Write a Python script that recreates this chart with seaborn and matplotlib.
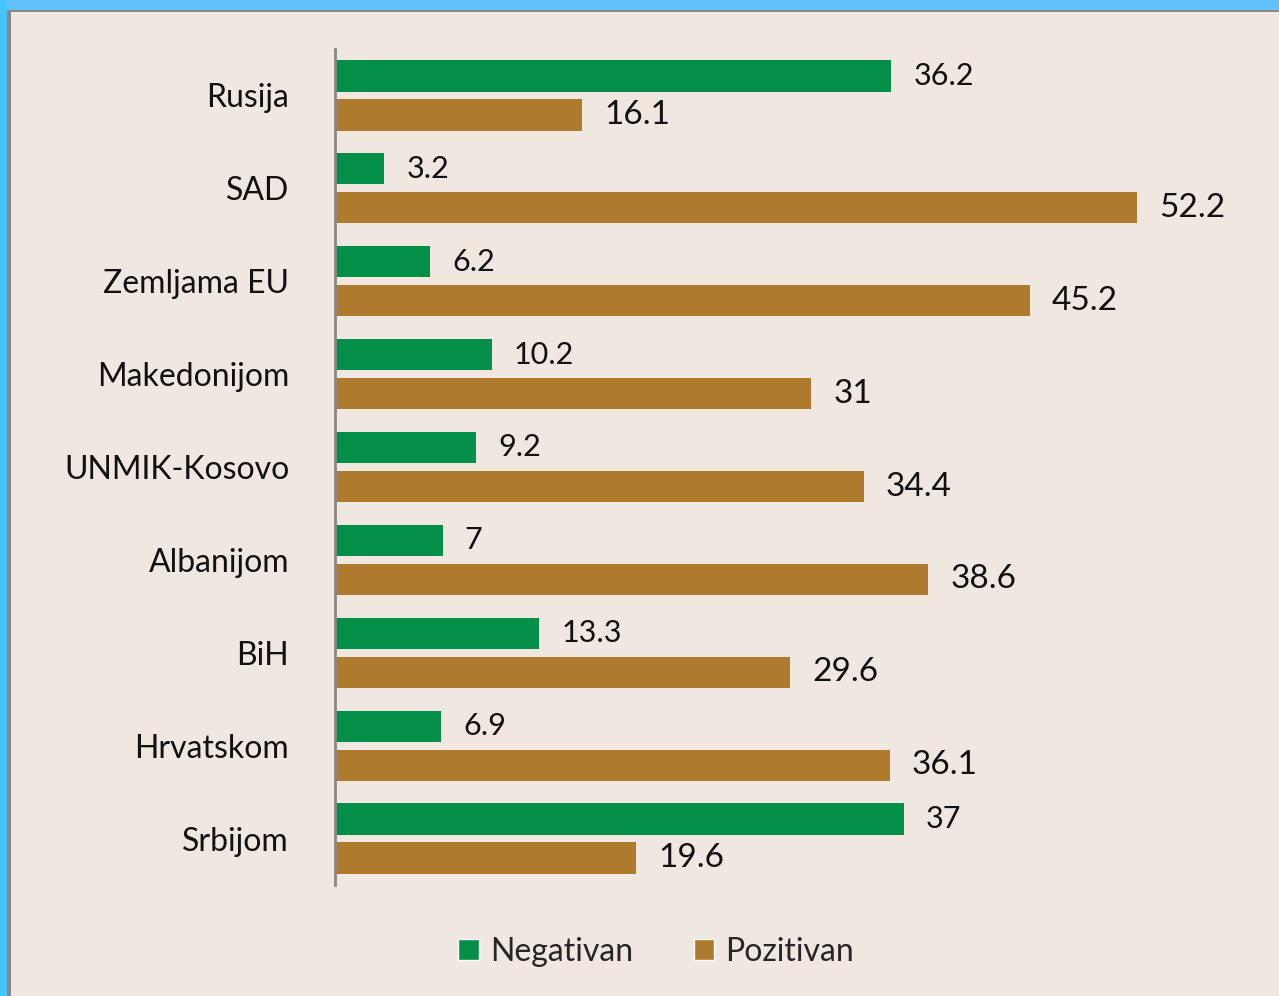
import matplotlib
matplotlib.use("Agg")
import matplotlib.pyplot as plt
import matplotlib.patches as mpatches
import seaborn as sns
import pandas as pd

categories = ["Rusija", "SAD", "Zemljama EU", "Makedonijom", "UNMIK-Kosovo",
              "Albanijom", "BiH", "Hrvatskom", "Srbijom"]
negativan = [36.2, 3.2, 6.2, 10.2, 9.2, 7, 13.3, 6.9, 37]
pozitivan = [16.1, 52.2, 45.2, 31, 34.4, 38.6, 29.6, 36.1, 19.6]
neg_labels = ["36.2", "3.2", "6.2", "10.2", "9.2", "7", "13.3", "6.9", "37"]
poz_labels = ["16.1", "52.2", "45.2", "31", "34.4", "38.6", "29.6", "36.1", "19.6"]
series = ["Negativan", "Pozitivan"]

GREEN = "#038F48"
BROWN = "#AD7A2E"
BG = "#F0E8E0"

sns.set_style("white")
plt.rcParams['font.family'] = ['Lato', 'DejaVu Sans']

df = pd.DataFrame({
    "cat": categories * 2,
    "val": negativan + pozitivan,
    "series": [series[0]] * len(categories) + [series[1]] * len(categories),
})

fig = plt.figure(figsize=(12.79, 9.96), dpi=100)
fig.patch.set_facecolor(BG)
# blue frame at top and left with a gray line
fig.patches.append(mpatches.Rectangle((0, 1 - 11 / 996), 1, 11 / 996, transform=fig.transFigure,
                                      facecolor="#62C0FC", edgecolor="none", zorder=0))
fig.patches.append(mpatches.Rectangle((0, 0), 7 / 1279, 1, transform=fig.transFigure,
                                      facecolor="#48C4FC", edgecolor="none", zorder=0))
fig.patches.append(mpatches.Rectangle((7 / 1279, 0), 3.5 / 1279, 1 - 11 / 996, transform=fig.transFigure,
                                      facecolor="#888888", edgecolor="none", zorder=1))
fig.patches.append(mpatches.Rectangle((7 / 1279, 1 - 12.5 / 996), 1, 2 / 996, transform=fig.transFigure,
                                      facecolor="#888888", edgecolor="none", zorder=1))

left, right = 335 / 1279, 1257 / 1279
top, bottom = 1 - 49 / 996, 1 - 885 / 996
ax = fig.add_axes([left, bottom, right - left, top - bottom])
ax.set_facecolor(BG)

sns.barplot(data=df, y="cat", x="val", hue="series", order=categories,
            hue_order=series, palette=[GREEN, BROWN], orient="h",
            width=0.84, gap=0.2, saturation=1, linewidth=0, ax=ax, legend=False)

ax.set_xlim(0, 60)
ax.set_xlabel("")
ax.set_ylabel("")
ax.set_xticks([])
for s in ["top", "right", "bottom"]:
    ax.spines[s].set_visible(False)
ax.spines["left"].set_color("#888888")
ax.spines["left"].set_linewidth(2)
ax.tick_params(axis="y", length=0, pad=33, labelsize=23, labelcolor="#111111")

for container, labels, fs in zip(ax.containers, [neg_labels, poz_labels], [22, 24]):
    ax.bar_label(container, labels=labels, padding=16, fontsize=fs, color="#111111")

handles = [mpatches.Patch(facecolor=GREEN, label=series[0]),
           mpatches.Patch(facecolor=BROWN, label=series[1])]
fig.legend(handles=handles, loc="center", bbox_to_anchor=(656 / 1279, 1 - 952 / 996),
           ncol=2, frameon=False, fontsize=23, handlelength=0.65, handleheight=0.62,
           handletextpad=0.33, columnspacing=1.9)

fig.savefig("out.png", dpi=100, facecolor=BG)
